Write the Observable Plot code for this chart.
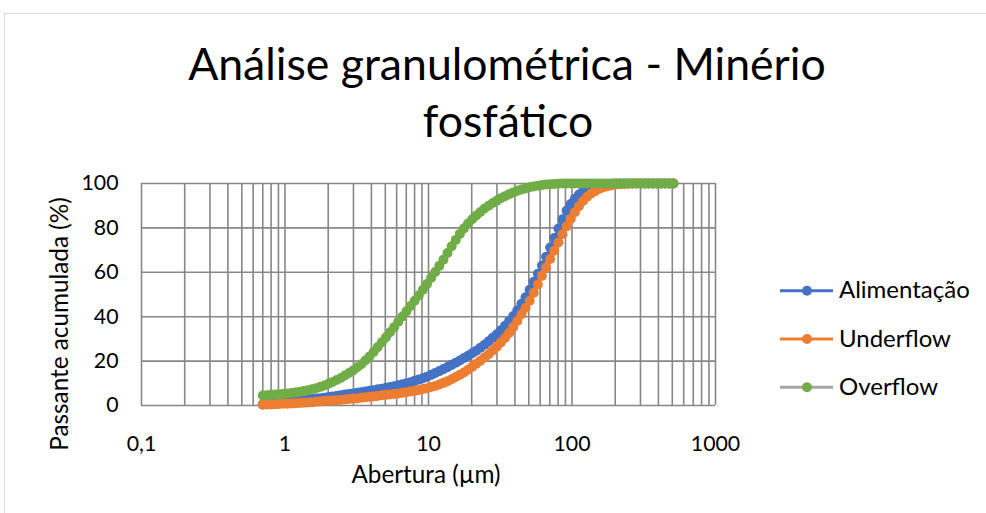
<!DOCTYPE html>
<html lang="pt">
<head>
<meta charset="utf-8">
<title>Análise granulométrica - Minério fosfático</title>
<script src="https://cdn.jsdelivr.net/npm/d3@7"></script>
<script src="https://cdn.jsdelivr.net/npm/@observablehq/plot@0.6"></script>
<style>
  html, body { margin: 0; padding: 0; background: #fff; }
  #chart { position: relative; width: 986px; height: 513px; overflow: hidden; font-family: Lato, "Open Sans", sans-serif; }
  #chart > svg { position: absolute; left: 0; top: 0; }
  #overlay { pointer-events: none; }
</style>
</head>
<body>
<div id="chart"></div>
<script>
// Abertura (µm) – classes do ensaio de difração a laser
const aberturas = [
  0.700, 0.748, 0.799, 0.853, 0.911, 0.973, 1.039, 1.110, 1.186, 1.266,
  1.353, 1.445, 1.543, 1.648, 1.761, 1.881, 2.009, 2.145, 2.292, 2.448,
  2.614, 2.793, 2.983, 3.186, 3.403, 3.635, 3.882, 4.147, 4.429, 4.731,
  5.053, 5.397, 5.765, 6.157, 6.577, 7.024, 7.503, 8.014, 8.559, 9.142,
  9.764, 10.43, 11.14, 11.90, 12.71, 13.57, 14.50, 15.49, 16.54, 17.67,
  18.87, 20.16, 21.53, 22.99, 24.56, 26.23, 28.02, 29.93, 31.96, 34.14,
  36.46, 38.95, 41.60, 44.44, 47.46, 50.70, 54.15, 57.83, 61.78, 65.98,
  70.48, 75.28, 80.40, 85.87, 91.72, 97.97, 104.7, 111.8, 119.4, 127.5,
  136.2, 145.5, 155.4, 166.0, 177.3, 189.4, 202.3, 216.0, 230.8, 246.5,
  263.3, 281.2, 300.4, 320.8, 342.7, 366.0, 390.9, 417.6, 446.0, 476.4,
  508.8
];

// Passante acumulada (%) por amostra
const alimentacao = [
  0.5, 0.6, 0.7, 0.8, 1.0, 1.2, 1.4, 1.6, 1.8, 2.0,
  2.3, 2.6, 2.9, 3.1, 3.3, 3.5, 3.8, 4.1, 4.3, 4.6,
  4.9, 5.2, 5.4, 5.7, 6.0, 6.3, 6.6, 6.9, 7.3, 7.6,
  8.0, 8.3, 8.7, 9.1, 9.6, 10.0, 10.5, 11.1, 11.7, 12.3,
  13.0, 13.8, 14.6, 15.5, 16.4, 17.3, 18.3, 19.3, 20.3, 21.4,
  22.4, 23.5, 24.7, 26.0, 27.4, 28.9, 30.5, 32.1, 33.9, 35.9,
  38.0, 40.3, 42.9, 45.8, 48.8, 52.1, 55.7, 59.3, 63.1, 67.0,
  71.2, 75.4, 79.7, 83.9, 87.7, 90.8, 93.1, 95.0, 96.5, 97.8,
  98.6, 99.1, 99.5, 99.7, 99.8, 99.9, 100, 100, 100, 100,
  100, 100, 100, 100, 100, 100, 100, 100, 100, 100,
  100
];
const underflow = [
  0.4, 0.5, 0.5, 0.6, 0.7, 0.8, 0.8, 0.9, 1.0, 1.1,
  1.2, 1.4, 1.5, 1.7, 1.8, 2.0, 2.1, 2.3, 2.4, 2.5,
  2.7, 2.9, 3.1, 3.2, 3.5, 3.7, 3.9, 4.1, 4.3, 4.6,
  4.8, 5.0, 5.2, 5.4, 5.7, 6.0, 6.3, 6.6, 7.0, 7.4,
  7.8, 8.3, 8.8, 9.5, 10.2, 10.9, 11.8, 12.8, 13.8, 14.9,
  16.1, 17.4, 18.8, 20.2, 21.6, 23.1, 24.8, 26.5, 28.4, 30.4,
  32.7, 35.3, 38.1, 41.1, 43.9, 47.2, 50.8, 54.5, 58.4, 62.2,
  66.0, 69.7, 73.4, 77.1, 80.7, 84.0, 87.1, 89.8, 92.1, 94.0,
  95.5, 96.6, 97.6, 98.3, 98.8, 99.2, 99.6, 99.7, 99.8, 99.9,
  100, 100, 100, 100, 100, 100, 100, 100, 100, 100,
  100
];
const overflow = [
  4.5, 4.6, 4.8, 4.9, 5.1, 5.2, 5.4, 5.6, 5.9, 6.2,
  6.5, 6.9, 7.3, 7.8, 8.4, 9.0, 9.8, 10.6, 11.5, 12.4,
  13.5, 14.6, 15.8, 17.2, 18.6, 20.3, 22.1, 24.1, 26.3, 28.5,
  30.7, 33.0, 35.3, 37.7, 40.1, 42.4, 44.8, 47.2, 49.6, 52.1,
  54.7, 57.4, 60.1, 62.9, 65.7, 68.7, 71.7, 74.6, 77.3, 79.8,
  82.0, 83.9, 85.6, 87.2, 88.7, 90.0, 91.2, 92.3, 93.4, 94.3,
  95.2, 96.0, 96.7, 97.3, 97.8, 98.3, 98.7, 99.0, 99.3, 99.5,
  99.7, 99.8, 99.9, 100, 100, 100, 100, 100, 100, 100,
  100, 100, 100, 100, 100, 100, 100, 100, 100, 100,
  100, 100, 100, 100, 100, 100, 100, 100, 100, 100,
  100
];

const seriesNames = ["Alimentação", "Underflow", "Overflow"];
const lineColors = ["#4472C4", "#ED7D31", "#A5A5A5"];
const markerColors = ["#4472C4", "#ED7D31", "#70AD47"];

const xTicks = [0.1, 1, 10, 100, 1000];
const yTicks = [0, 20, 40, 60, 80, 100];
const fmtTick = d => String(d).replace(".", ",");

// linhas de grade logarítmicas: 1..9 em cada década
const xGrid = xTicks.slice(0, -1)
  .flatMap(t => [1, 2, 3, 4, 5, 6, 7, 8, 9].map(m => m * t))
  .concat([xTicks[xTicks.length - 1]]);

const tables = [alimentacao, underflow, overflow].map((vals, i) =>
  aberturas.map((a, j) => ({ serie: seriesNames[i], abertura: a, passante: vals[j] }))
);

const gridStyle = { stroke: "#878787", strokeOpacity: 1, strokeWidth: 1.6 };

// cada série: linha e marcadores, na ordem de desenho
const seriesMarks = tables.flatMap((rows, i) => [
  Plot.line(rows, { x: "abertura", y: "passante", stroke: lineColors[i], strokeWidth: 2.8 }),
  Plot.dot(rows, { x: "abertura", y: "passante", fill: markerColors[i], r: 5 })
]);

const plot = Plot.plot({
  width: 986,
  height: 513,
  marginLeft: 141,
  marginRight: 271,
  marginTop: 183,
  marginBottom: 108,
  style: { fontFamily: "Lato, 'Open Sans', sans-serif", color: "#000", background: "transparent", overflow: "visible" },
  x: { type: "log", domain: [0.1, 1000] },
  y: { domain: [0, 100] },
  marks: [
    Plot.gridX(xGrid, gridStyle),
    Plot.gridY(yTicks, gridStyle),
    Plot.axisX({ ticks: xTicks, tickFormat: fmtTick, tickSize: 0, tickPadding: 30, fontSize: 21.3, label: null }),
    Plot.axisY({ ticks: yTicks, tickSize: 0, tickPadding: 23, fontSize: 21.3, label: null }),
    ...seriesMarks
  ]
});
document.getElementById("chart").appendChild(plot);

// título, títulos dos eixos e legenda
const svg = d3.select("#chart").append("svg")
  .attr("id", "overlay")
  .attr("width", 986).attr("height", 513)
  .style("font-family", "Lato, 'Open Sans', sans-serif");

svg.append("rect")
  .attr("x", 4.5).attr("y", 13.5).attr("width", 1100).attr("height", 600)
  .attr("fill", "none").attr("stroke", "#d9d9d9");

const title = svg.append("text")
  .attr("text-anchor", "middle").attr("font-size", 44.6).attr("fill", "#000");
title.append("tspan").attr("x", 507).attr("y", 79.5).text("Análise granulométrica - Minério");
title.append("tspan").attr("x", 508).attr("y", 136.7).text("fosfático");

svg.append("text")
  .attr("x", 426).attr("y", 483)
  .attr("text-anchor", "middle").attr("font-size", 24.3).attr("fill", "#000")
  .text("Abertura (µm)");

svg.append("text")
  .attr("transform", "translate(68,324) rotate(-90)")
  .attr("text-anchor", "middle").attr("font-size", 24.3).attr("fill", "#000")
  .text("Passante acumulada (%)");

const legendRows = [290.7, 339, 387.3];
seriesNames.forEach((name, i) => {
  const g = svg.append("g").attr("transform", `translate(0,${legendRows[i]})`);
  g.append("line").attr("x1", 780).attr("x2", 833).attr("y1", 0).attr("y2", 0)
    .attr("stroke", lineColors[i]).attr("stroke-width", 3);
  g.append("circle").attr("cx", 807).attr("cy", 0).attr("r", 5).attr("fill", markerColors[i]);
  g.append("text").attr("x", 839).attr("y", 7.6)
    .attr("font-size", 24).attr("fill", "#000").text(name);
});
</script>
</body>
</html>
